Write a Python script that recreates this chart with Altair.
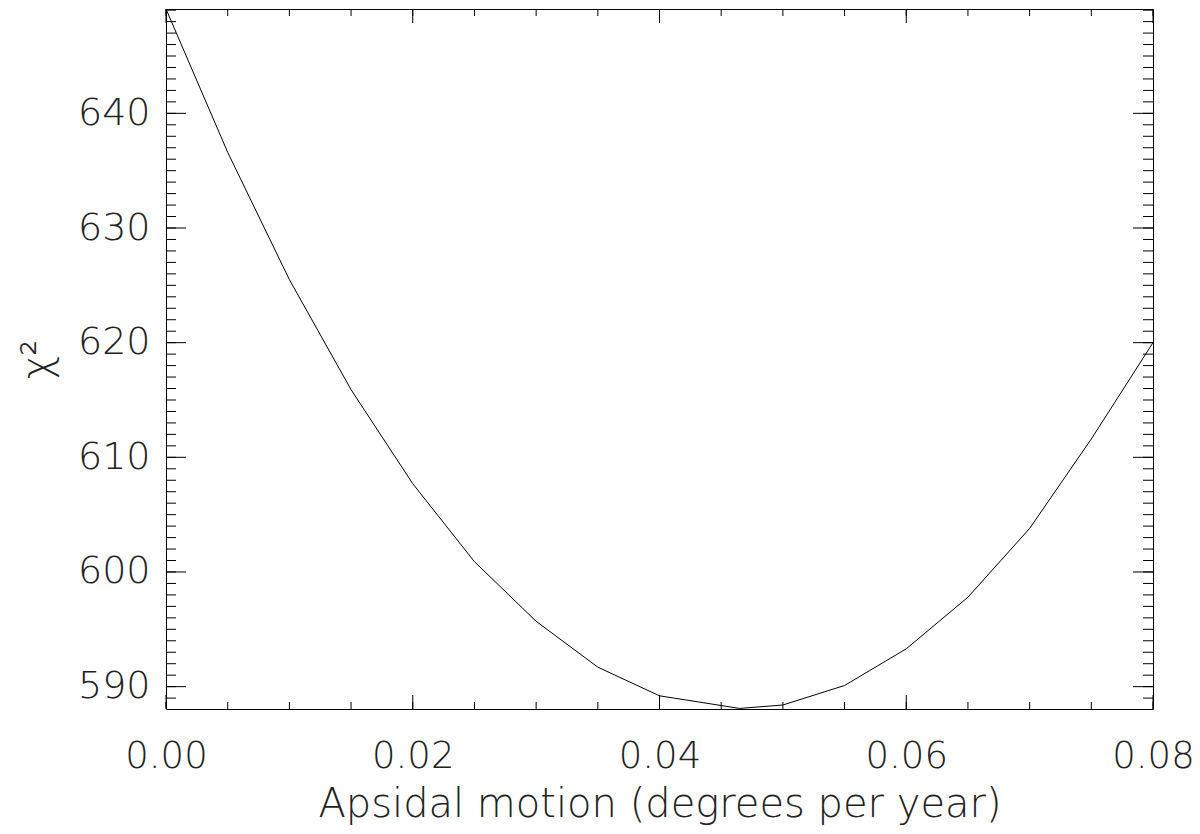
import altair as alt
import pandas as pd

# Data
apsidal = [0.0, 0.005, 0.01, 0.015, 0.02, 0.025, 0.03, 0.035, 0.04, 0.0465,
           0.05, 0.055, 0.06, 0.065, 0.07, 0.075, 0.08]
chi2 = [649.1, 636.6, 625.5, 615.9, 607.7, 600.9, 595.7, 591.7, 589.2, 588.1,
        588.4, 590.1, 593.3, 597.8, 603.8, 611.6, 620.0]

x_major = [0.0, 0.02, 0.04, 0.06, 0.08]
x_minor = [0.0, 0.005, 0.01, 0.015, 0.02, 0.025, 0.03, 0.035, 0.04, 0.045,
           0.05, 0.055, 0.06, 0.065, 0.07, 0.075, 0.08]
y_major = [590, 600, 610, 620, 630, 640]
y_minor = list(range(589, 650))

W, H = 987, 700
FONT = "DejaVu Sans"
TXT = "#222222"

xscale = alt.Scale(domain=[0, 0.08], nice=False, zero=False)
yscale = alt.Scale(domain=[588.05, 649.1], nice=False, zero=False)

xaxis = alt.Axis(values=x_major, format=".2f", ticks=False, tickSize=0,
                 domain=False, grid=False, labelFont=FONT, labelFontSize=37,
                 labelFontWeight=200, labelColor=TXT, labelPadding=29,
                 labelFlush=False, labelOverlap=False,
                 title="Apsidal motion (degrees per year)",
                 titleFont=FONT, titleFontSize=40, titleFontWeight=200,
                 titleColor=TXT, titleBaseline="alphabetic",
                 titleX=W / 2, titleY=107, titleAlign="center")
yaxis = alt.Axis(values=y_major, format="d", ticks=False, tickSize=0,
                 domain=False, grid=False, labelFont=FONT, labelFontSize=38,
                 labelFontWeight=200, labelColor=TXT, labelPadding=16,
                 labelFlush=False, labelOverlap=False,
                 title="χ²", titleFont=FONT, titleFontSize=40,
                 titleFontWeight=200, titleColor=TXT, titleAngle=270,
                 titleAlign="center", titleBaseline="middle",
                 titleX=-129, titleY=H / 2)

df = pd.DataFrame({"a": apsidal, "c": chi2})

line = alt.Chart(df).mark_line(color="black", strokeWidth=1).encode(
    x=alt.X("a:Q", scale=xscale, axis=xaxis),
    y=alt.Y("c:Q", scale=yscale, axis=yaxis),
)

def xticks(vals, length, top):
    d = pd.DataFrame({"a": vals})
    if top:
        enc = dict(y=alt.value(0), y2=alt.value(length))
    else:
        enc = dict(y=alt.value(H), y2=alt.value(H - length))
    return alt.Chart(d).mark_rule(color="black", strokeWidth=1).encode(
        x=alt.X("a:Q", scale=xscale, axis=xaxis), **enc)

def yticks(vals, length, right):
    d = pd.DataFrame({"c": vals})
    if right:
        enc = dict(x=alt.value(W), x2=alt.value(W - length))
    else:
        enc = dict(x=alt.value(0), x2=alt.value(length))
    return alt.Chart(d).mark_rule(color="black", strokeWidth=1).encode(
        y=alt.Y("c:Q", scale=yscale, axis=yaxis), **enc)

chart = alt.layer(
    line,
    xticks(x_minor, 7, False), xticks(x_major, 14, False),
    xticks(x_minor, 7, True), xticks(x_major, 14, True),
    yticks(y_minor, 10, False), yticks(y_major, 20, False),
    yticks(y_minor, 10, True), yticks(y_major, 20, True),
).properties(
    width=W, height=H,
    autosize=alt.AutoSizeParams(type="none"),
    padding={"left": 158, "top": 1, "right": 39, "bottom": 116},
).configure_view(stroke="black", strokeWidth=1)

chart.save("out.html", embed_options={"renderer": "svg", "actions": False})
